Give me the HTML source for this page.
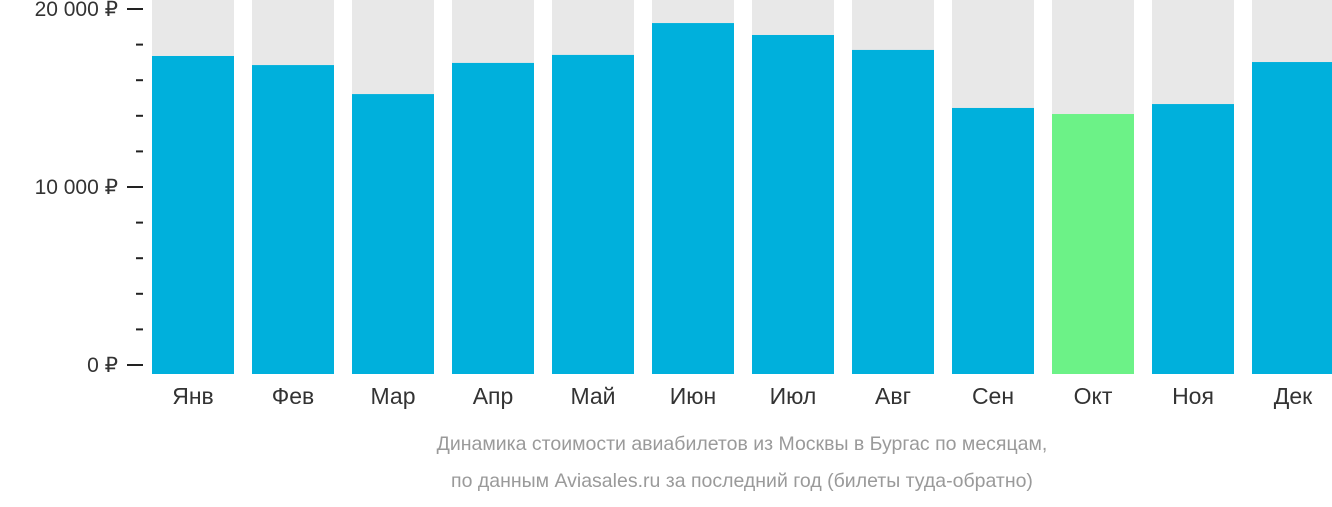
<!DOCTYPE html>
<html><head><meta charset="utf-8">
<style>
body{margin:0;background:#fff;width:1332px;height:502px;overflow:hidden;font-family:"Liberation Sans",sans-serif;}
svg text{font-family:"Liberation Sans",sans-serif;}
</style></head>
<body>
<svg id="chart" width="1332" height="502" xmlns="http://www.w3.org/2000/svg"></svg>
<script>
const months = ["Янв","Фев","Мар","Апр","Май","Июн","Июл","Авг","Сен","Окт","Ноя","Дек"];
const prices = [17360,16850,15220,16970,17420,19210,18540,17700,14440,14100,14660,17020];
const highlightIndex = 9;
const tickValues = [0,10000,20000];
const tickLabels = ["0 ₽","10 000 ₽","20 000 ₽"];
const minorTickValues = [2000,4000,6000,8000,12000,14000,16000,18000];

const svg = document.getElementById('chart');
const NS = 'http://www.w3.org/2000/svg';
const y0 = 365, pxPer = 17.8/1000, bottom = 374;
const yScale = v => y0 - v*pxPer;
const xScale = i => 152 + i*100;
const barW = 82;
function mk(tag, attrs){const e=document.createElementNS(NS,tag);for(const k in attrs)e.setAttribute(k,attrs[k]);svg.appendChild(e);return e;}

months.forEach((m,i)=>{
  const bg = mk('rect',{x:xScale(i),y:0,width:barW,height:bottom,fill:'#e8e8e8'});
  
  
  const top = yScale(prices[i]);
  const b = mk('rect',{x:xScale(i),y:top,width:barW,height:bottom-top,fill:i===highlightIndex?'#6cf287':'#00b0dc'});
  
  
  const t = mk('text',{x:xScale(i)+barW/2,y:404,'text-anchor':'middle','font-size':'23',fill:'#333'});
  t.textContent = m;
  
  
});
tickValues.forEach((v,i)=>{
  const l = mk('line',{x1:127,x2:143,y1:yScale(v),y2:yScale(v),stroke:'#222','stroke-width':2});
  
  
  const t = mk('text',{x:118,y:yScale(v)+7,'text-anchor':'end','font-size':'21',fill:'#333'});
  t.textContent = tickLabels[i];
  
  
});
minorTickValues.forEach(v=>{
  const l = mk('line',{x1:136,x2:143,y1:yScale(v),y2:yScale(v),stroke:'#222','stroke-width':2});
  
  
});
const c1 = mk('text',{x:742,y:450,'text-anchor':'middle','font-size':'19.5',fill:'#9a9a9a'});
c1.textContent='Динамика стоимости авиабилетов из Москвы в Бургас по месяцам,';


const c2 = mk('text',{x:742,y:487,'text-anchor':'middle','font-size':'19.5',fill:'#9a9a9a'});
c2.textContent='по данным Aviasales.ru за последний год (билеты туда-обратно)';


</script>
</body></html>
